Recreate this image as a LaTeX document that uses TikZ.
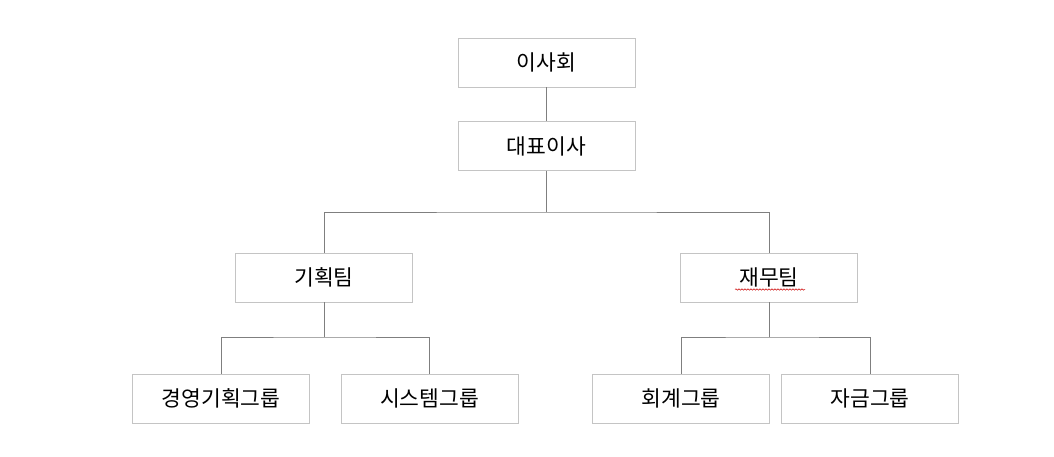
\documentclass[tikz,border=0pt]{standalone}
\usepackage{fontspec}
\newfontfamily\cjk{Noto Sans CJK KR}
\usetikzlibrary{decorations.pathmorphing}
\definecolor{boxline}{HTML}{C4C4C4}
\definecolor{conn}{HTML}{7F7F7F}
\begin{document}
\begin{tikzpicture}[x=1pt,y=-1pt,
  orgbox/.style={draw=boxline, line width=0.9pt, fill=white, minimum width=177pt, minimum height=49pt, inner sep=0pt, font=\cjk\fontsize{21.5}{24}\selectfont, text=black},
  link/.style={draw=conn, line width=0.9pt}]
\useasboundingbox[fill=white] (0,0) rectangle (1054,457);
\node[orgbox] (board) at (546.5,62.5) {이사회};
\node[orgbox] (ceo) at (546.5,146) {대표이사};
\node[orgbox] (plan) at (324,277.5) {기획팀};
\node[orgbox] (fin) at (769,277.5) {재무팀};
\node[orgbox] (mgmt) at (221,398.5) {경영기획그룹};
\node[orgbox] (sys) at (429.5,398.5) {시스템그룹};
\node[orgbox] (acct) at (681,398.5) {회계그룹};
\node[orgbox] (fund) at (870,398.5) {자금그룹};
\coordinate (j1) at (546.5,212);
\coordinate (j2) at (324,337);
\coordinate (j3) at (769,337);
\draw[link] (board.south) -- (ceo.north);
\draw[link] (ceo.south) -- (j1);
\draw[link] (plan.north) |- (j1) -| (fin.north);
\draw[link] (plan.south) -- (j2);
\draw[link] (mgmt.north) |- (j2) -| (sys.north);
\draw[link] (fin.south) -- (j3);
\draw[link] (acct.north) |- (j3) -| (fund.north);
\draw[red!80!black, line width=0.5pt, decorate, decoration={snake, amplitude=0.7pt, segment length=3pt}] ([xshift=-34pt,yshift=-12pt]fin.center) -- ([xshift=36pt,yshift=-12pt]fin.center);
\end{tikzpicture}
\end{document}
